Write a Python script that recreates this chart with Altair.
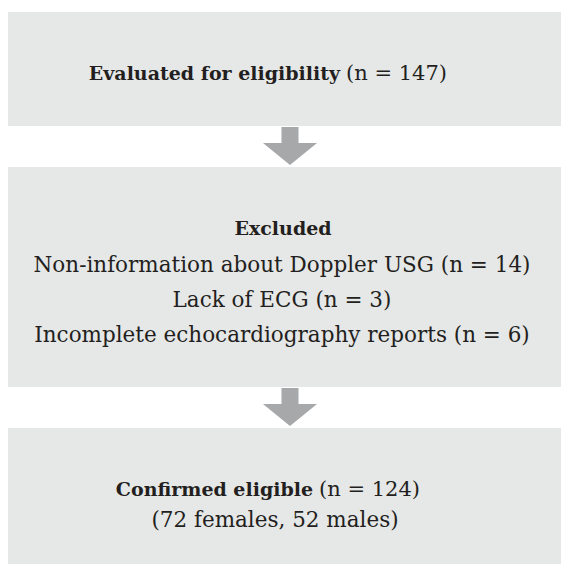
import altair as alt
import pandas as pd

# Boxes (page-pixel coordinates; the last box runs to the edge)
box_left = [8, 8, 8]
box_right = [561, 561, 561]
box_top = [12, 167, 428]
box_bottom = [126, 387, 564]

# Arrows between boxes (centre x, centre y)
arrow_x = [290, 290]
arrow_y = [146, 407]

# Text lines
line_text = [
    "Evaluated for eligibility", "(n = 147)",
    "Excluded",
    "Non-information about Doppler USG (n = 14)",
    "Lack of ECG (n = 3)",
    "Incomplete echocardiography reports (n = 6)",
    "Confirmed eligible", "(n = 124)",
    "(72 females, 52 males)",
]
line_x = [340, 346, 283, 282, 282, 282, 313, 319, 275]
line_y = [80, 80, 235, 272, 307, 342, 496, 496, 527]
line_group = ["bold_right", "normal_left", "bold_center", "normal_center",
              "normal_center", "normal_center", "bold_right", "normal_left",
              "normal_center"]

W, H = 553, 556
FONT = "DejaVu Serif"
TEXT_COLOR = "#231f20"

xs = alt.Scale(domain=[8, 8 + W], range=[0, W], nice=False, zero=False)
ys = alt.Scale(domain=[8, 8 + H], range=[0, H], nice=False, zero=False)

boxes = pd.DataFrame({"x": box_left, "x2": box_right, "y": box_top, "y2": box_bottom})
arrows = pd.DataFrame({"x": arrow_x, "y": arrow_y})
lines = pd.DataFrame({"text": line_text, "x": line_x, "y": line_y, "g": line_group})

box_layer = alt.Chart(boxes).mark_rect(color="#e6e7e7", strokeWidth=0).encode(
    x=alt.X("x:Q", scale=xs, axis=None),
    x2="x2:Q",
    y=alt.Y("y:Q", scale=ys, axis=None),
    y2="y2:Q",
)

ARROW_PATH = ("M-0.315,-0.704 L0.315,-0.704 L0.315,-0.111 L1,-0.111 "
              "L0,0.704 L-1,-0.111 L-0.315,-0.111 Z")
arrow_layer = alt.Chart(arrows).mark_point(
    shape=ARROW_PATH, filled=True, color="#a7a8aa", opacity=1, size=2916, strokeWidth=0
).encode(
    x=alt.X("x:Q", scale=xs, axis=None),
    y=alt.Y("y:Q", scale=ys, axis=None),
)


def text_layer(group, align, weight, size):
    return alt.Chart(lines).transform_filter(
        alt.datum.g == group
    ).mark_text(
        align=align, baseline="alphabetic", font=FONT, fontWeight=weight,
        fontSize=size, color=TEXT_COLOR
    ).encode(
        x=alt.X("x:Q", scale=xs, axis=None),
        y=alt.Y("y:Q", scale=ys, axis=None),
        text="text:N",
    )


chart = alt.layer(
    box_layer,
    arrow_layer,
    text_layer("bold_right", "right", "bold", 19),
    text_layer("normal_left", "left", "normal", 21),
    text_layer("bold_center", "center", "bold", 19),
    text_layer("normal_center", "center", "normal", 21.5),
).properties(
    width=W, height=H, padding=0, background="white",
    autosize=alt.AutoSizeParams(type="none")
).configure_view(strokeWidth=0, stroke="transparent", fill="white")

chart.save("out.html", embed_options={"renderer": "svg", "actions": False})
